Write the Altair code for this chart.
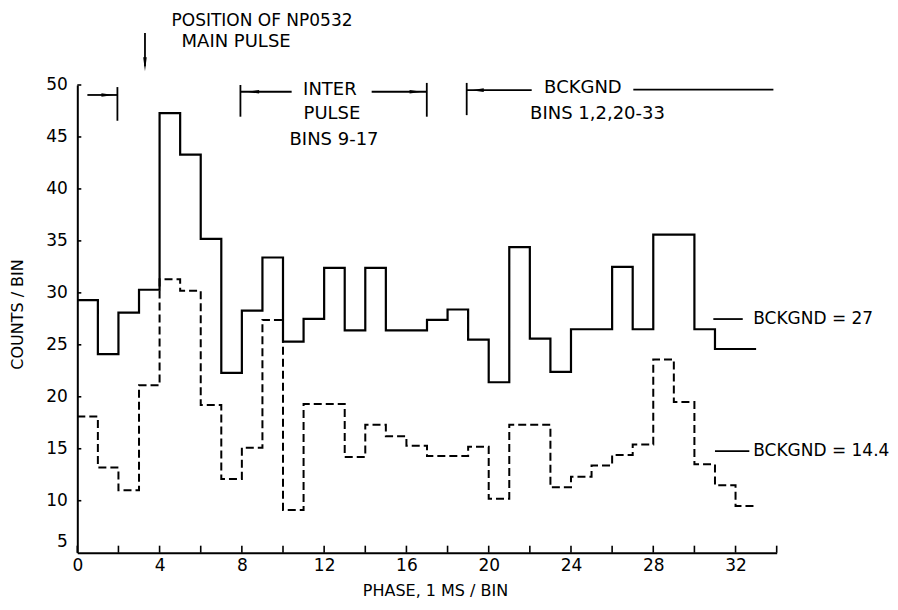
import altair as alt
import pandas as pd

# ---- data ----
bin_edges = list(range(34))  # phase bins 0..33 (1 ms per bin)
solid_counts = [29.3, 24.1, 28.1, 30.3, 47.3, 43.3, 35.2, 22.3, 28.3, 33.4,
                25.3, 27.5, 32.4, 26.4, 32.4, 26.4, 26.4, 27.4, 28.4, 25.5,
                21.4, 34.4, 25.6, 22.4, 26.5, 26.5, 32.5, 26.5, 35.6, 35.6,
                26.5, 24.6, 24.6]
dashed_counts = [18.1, 13.2, 11.0, 21.1, 31.3, 30.2, 19.2, 12.1, 15.1, 27.4,
                 9.1, 19.3, 19.3, 14.2, 17.3, 16.2, 15.3, 14.3, 14.3, 15.2,
                 10.2, 17.3, 17.3, 11.3, 12.3, 13.4, 14.4, 15.4, 23.6, 19.5,
                 13.5, 11.5, 9.5]

x_tick_values = list(range(0, 35, 2))
x_label_values = list(range(0, 33, 4))
y_tick_values = list(range(10, 51, 5))
y_label_values = list(range(5, 51, 5))

# annotation segments (data coordinates)
seg_x1 = [3.29, 0.49, 1.95, 7.93, 7.93, 14.31, 16.99, 18.93, 18.93, 27.03, 30.92, 31.0]
seg_x2 = [3.29, 1.95, 1.95, 7.93, 10.42, 16.99, 16.99, 18.93, 22.09, 33.84, 32.35, 32.67]
seg_y1 = [55.0, 49.04, 49.8, 50.0, 49.35, 49.35, 50.2, 50.2, 49.5, 49.55, 27.48, 14.77]
seg_y2 = [51.8, 49.04, 46.56, 46.95, 49.35, 49.35, 46.95, 47.1, 49.5, 49.55, 27.48, 14.77]

head_down_x = [3.29]
head_down_y = [52.0]
head_right_x = [1.47, 16.45]
head_right_y = [49.04, 49.35]
head_left_x = [8.54, 19.46]
head_left_y = [49.35, 49.5]

ctext = ["POSITION OF NP0532", "MAIN PULSE", "INTER", "PULSE", "BINS 9-17",
         "BCKGND", "BINS 1,2,20-33"]
ctext_x = [8.98, 7.72, 12.28, 12.38, 12.48, 24.58, 25.29]
ctext_y = [56.2, 54.15, 49.55, 47.2, 44.66, 49.68, 47.24]
ctext_size = [17, 18, 18, 18, 18, 18, 18]
ltext = ["BCKGND = 27", "BCKGND = 14.4"]
ltext_x = [32.86, 32.86]
ltext_y = [27.45, 14.77]

FONT = "DejaVu Sans"
xs = alt.Scale(domain=[0, 34], nice=False, zero=False)
ys = alt.Scale(domain=[5, 50], nice=False, zero=False)

solid_df = pd.DataFrame({"phase": bin_edges, "counts": solid_counts + [solid_counts[-1]]})
dashed_df = pd.DataFrame({"phase": bin_edges, "counts": dashed_counts + [dashed_counts[-1]]})

x_axis = alt.Axis(values=x_label_values, ticks=False, grid=False, domainColor="black",
                  domainWidth=2, labelFont=FONT, labelFontSize=17, labelColor="black",
                  labelPadding=5, labelFlush=False, title="PHASE, 1 MS / BIN", titleFont=FONT,
                  titleFontSize=16, titleFontWeight="normal", titleColor="black",
                  titleX=357.7, titleY=38, titleAlign="center", titleBaseline="middle")
y_axis = alt.Axis(values=y_label_values, ticks=False, grid=False, domainColor="black",
                  domainWidth=2, labelFont=FONT, labelFontSize=17, labelColor="black",
                  labelPadding=10, labelFlush=False,
                  labelOffset={"condition": {"test": "datum.value == 5", "value": -11}, "value": 0},
                  title="COUNTS / BIN", titleFont=FONT, titleFontSize=16,
                  titleFontWeight="normal", titleColor="black", titleAngle=270,
                  titleX=-60, titleY=229, titleAlign="center", titleBaseline="middle")

X = lambda f: alt.X(f, scale=xs, axis=x_axis)
Y = lambda f: alt.Y(f, scale=ys, axis=y_axis)

solid = alt.Chart(solid_df).mark_line(interpolate="step-after", color="black",
                                       strokeWidth=2.2).encode(
    x=X("phase:Q"), y=Y("counts:Q"))
dashed = alt.Chart(dashed_df).mark_line(interpolate="step-after", color="black",
                                         strokeWidth=2, strokeDash=[8, 4]).encode(
    x=X("phase:Q"), y=Y("counts:Q"))

xt = alt.Chart(pd.DataFrame({"t": x_tick_values})).mark_rule(color="black", strokeWidth=1.6).encode(
    x=X("t:Q"), y=alt.value(467.7), y2=alt.value(460.7))
yt = alt.Chart(pd.DataFrame({"t": y_tick_values})).mark_rule(color="black", strokeWidth=1.6).encode(
    y=Y("t:Q"), x=alt.value(0), x2=alt.value(4))

segs = alt.Chart(pd.DataFrame({"x1": seg_x1, "x2": seg_x2, "y1": seg_y1, "y2": seg_y2})).mark_rule(
    color="black", strokeWidth=1.8).encode(
    x=X("x1:Q"), x2="x2:Q", y=Y("y1:Q"), y2="y2:Q")


def heads(xv, yv, shape, size):
    return alt.Chart(pd.DataFrame({"x": xv, "y": yv})).mark_point(
        shape=shape, size=size, filled=True, color="black", opacity=1, strokeWidth=0).encode(
        x=X("x:Q"), y=Y("y:Q"))


hd = heads(head_down_x, head_down_y, "M-0.25,-1L0.25,-1L0,1Z", 200)
hr = heads(head_right_x, head_right_y, "M-1,-0.3L-1,0.3L1,0Z", 150)
hl = heads(head_left_x, head_left_y, "M1,-0.3L1,0.3L-1,0Z", 150)

ct = alt.Chart(pd.DataFrame({"x": ctext_x, "y": ctext_y, "t": ctext, "s": ctext_size})).mark_text(
    font=FONT, color="black", align="center", baseline="middle").encode(
    x=X("x:Q"), y=Y("y:Q"), text="t:N", size=alt.Size("s:Q", scale=None, legend=None))
lt = alt.Chart(pd.DataFrame({"x": ltext_x, "y": ltext_y, "t": ltext})).mark_text(
    font=FONT, fontSize=17, color="black", align="left", baseline="middle").encode(
    x=X("x:Q"), y=Y("y:Q"), text="t:N")

chart = alt.layer(solid, dashed, xt, yt, segs, hd, hr, hl, ct, lt).properties(
    width=699.4, height=467.7,
    autosize=alt.AutoSizeParams(type="none"),
    padding={"left": 69.3, "top": 77, "right": 112, "bottom": 48},
    background="white",
).configure_view(strokeWidth=0)

chart.save("out.html", embed_options={"renderer": "svg", "actions": False})
